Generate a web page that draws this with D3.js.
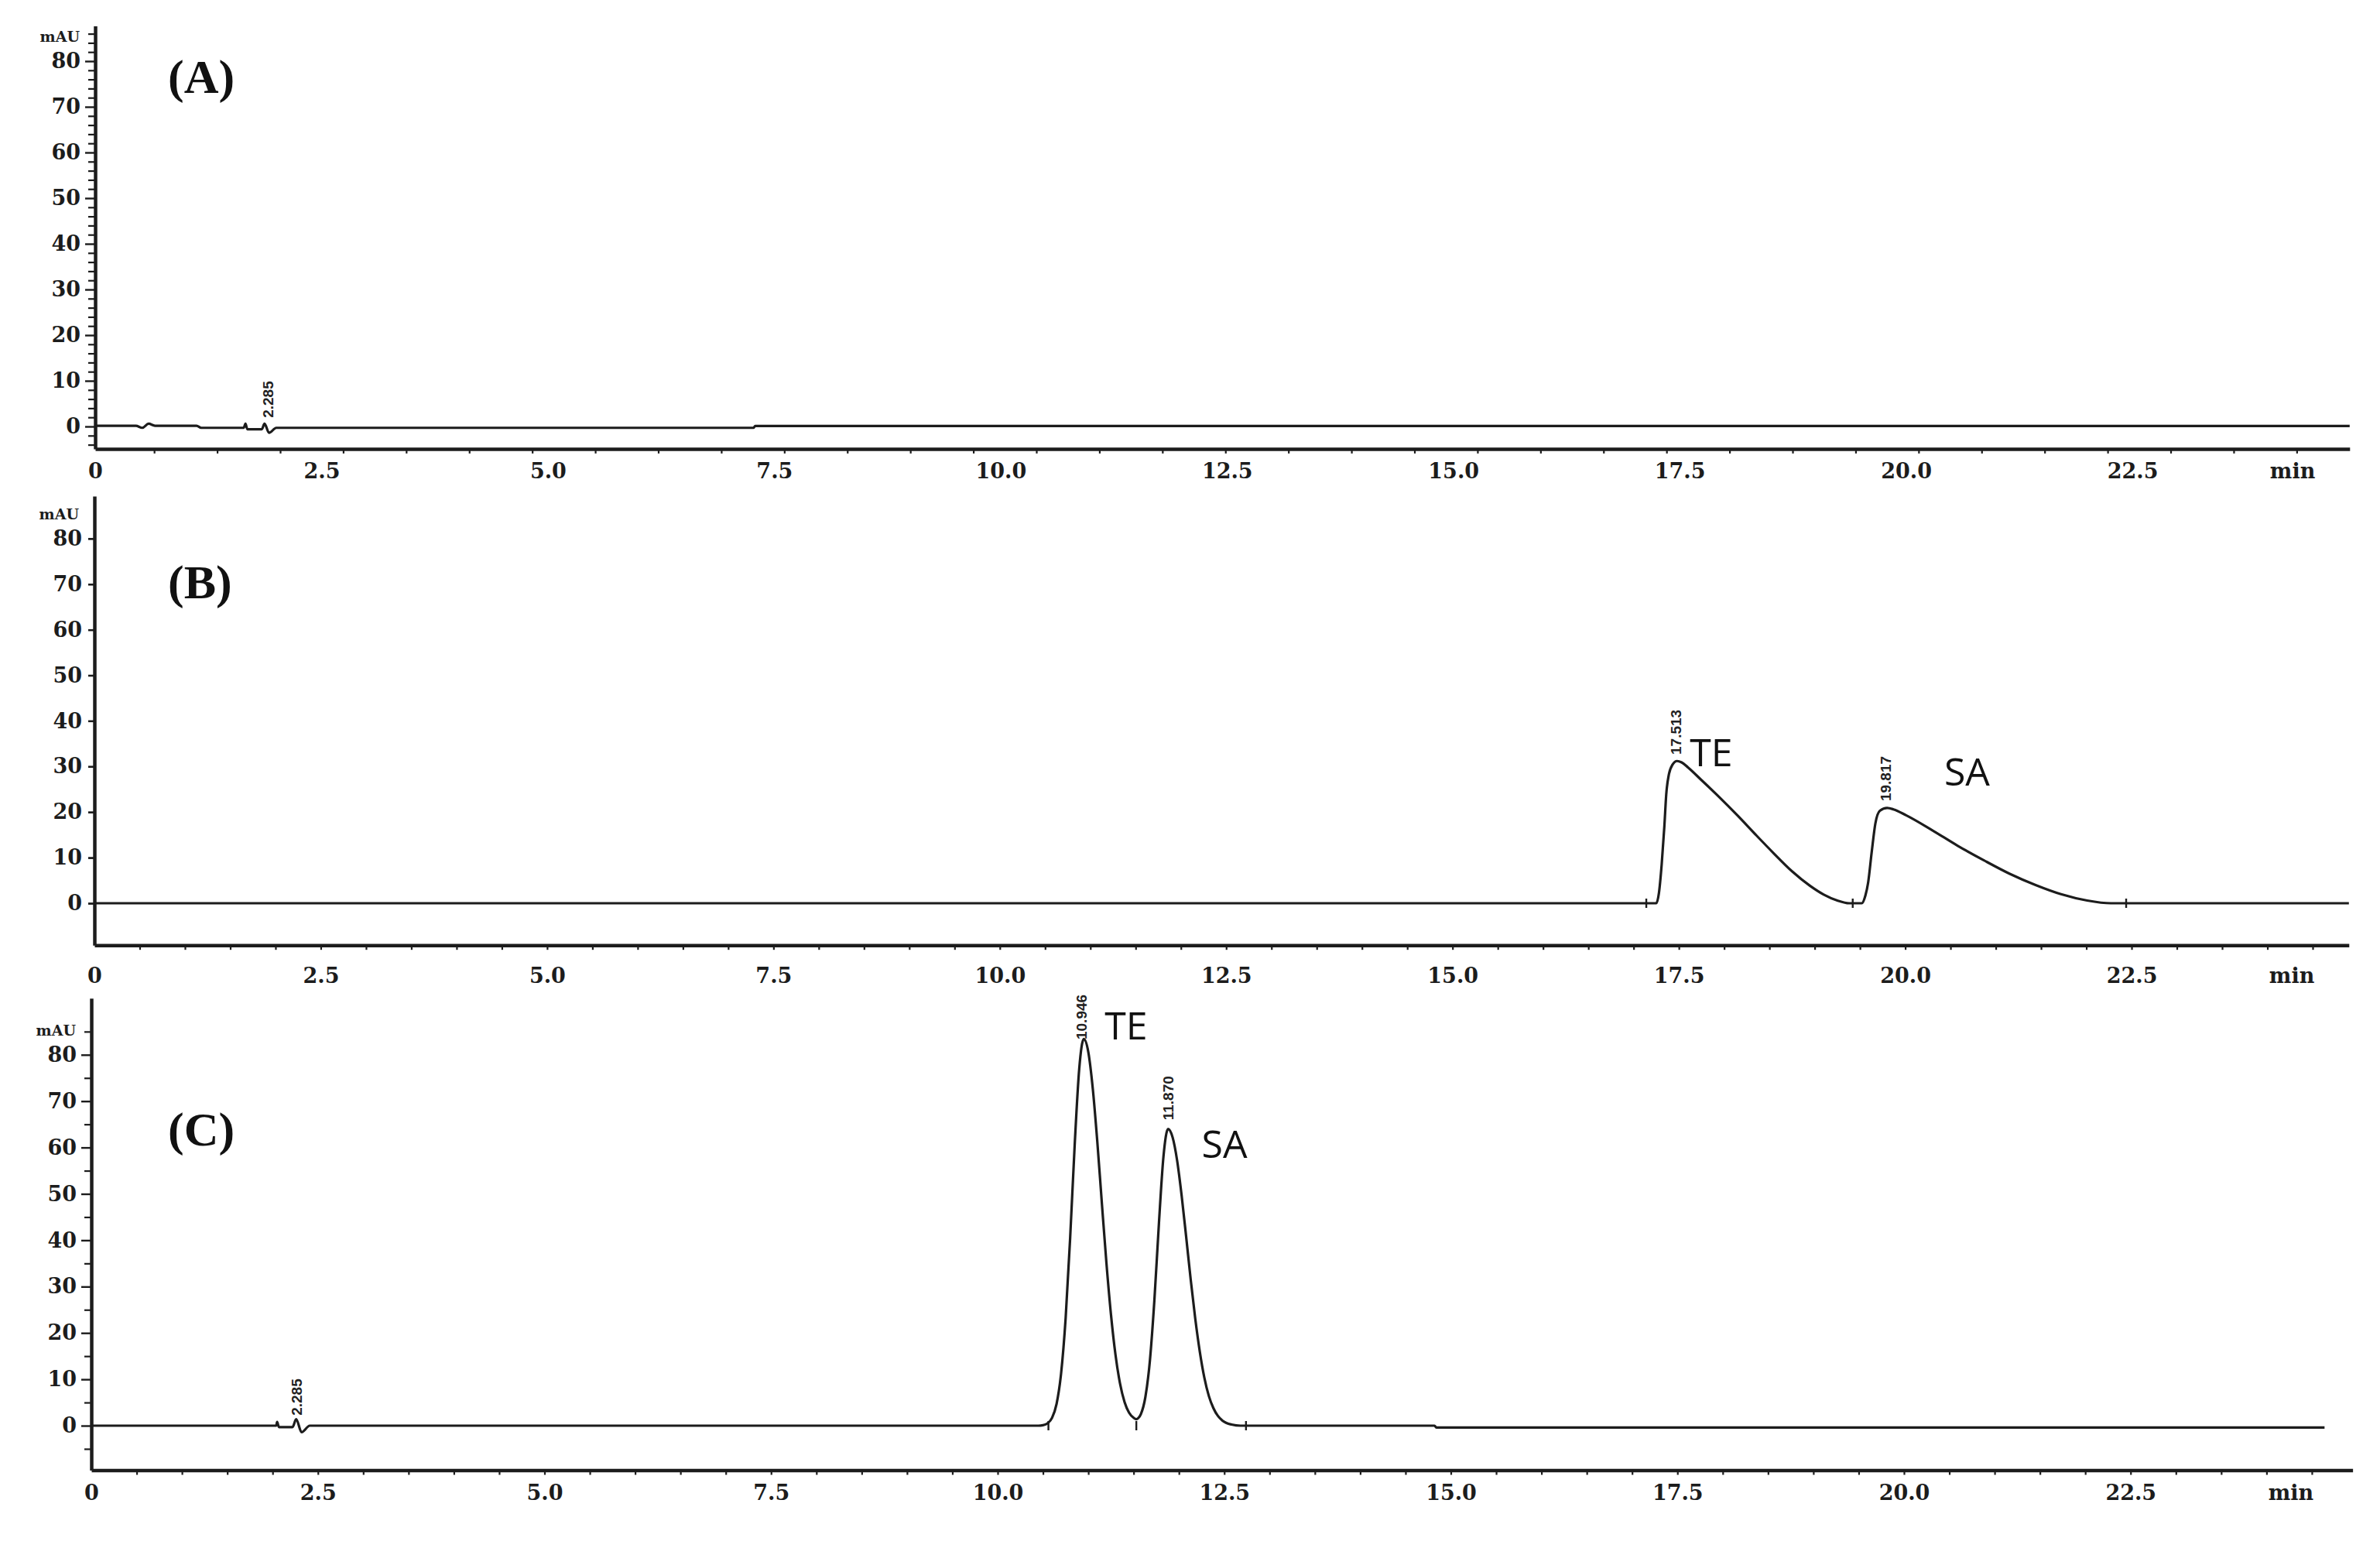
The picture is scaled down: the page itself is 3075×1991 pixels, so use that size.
<!DOCTYPE html>
<html><head><meta charset="utf-8">
<script src="https://cdn.jsdelivr.net/npm/d3@7"></script>
<style>body{margin:0;background:#fff}svg{display:block}</style>
</head><body>
<svg id="chart" width="3075" height="1991"></svg>
<script>
// ---------------- data ----------------
const timeTickValues = [0, 2.5, 5, 7.5, 10, 12.5, 15, 17.5, 20, 22.5];
const timeTickLabels = ["0", "2.5", "5.0", "7.5", "10.0", "12.5", "15.0", "17.5", "20.0", "22.5"];
const mAUTickValues = [0, 10, 20, 30, 40, 50, 60, 70, 80];
const panelNames = ["(A)", "(B)", "(C)"];

// Panel A: blank (baseline only)
const traceA = [[0,0.15],[0.45,0.15],[0.52,-0.3],[0.59,0.6],[0.66,0.15],[1.12,0.15],[1.17,-0.3],[1.64,-0.3],[1.66,0.6],[1.68,-0.6],[1.84,-0.6],[1.87,0.6],[1.92,-1.4],[2.0,-0.3],[7.27,-0.3],[7.29,0.1],[24.9,0.1]];
// Panel B: standard TE + SA
const traceB = [[0,0],[17.14,0],[17.25,0],[17.28,2.3],[17.31,8.5],[17.34,17.0],[17.36,23.8],[17.39,28.3],[17.43,30.4],[17.48,31.2],[17.53,30.9],[17.60,29.8],[17.75,27.0],[17.95,23.2],[18.15,19.2],[18.35,15.0],[18.55,10.9],[18.75,7.0],[18.95,3.8],[19.10,1.9],[19.25,0.6],[19.38,0],[19.52,0],[19.56,1.7],[19.59,4.5],[19.63,11.3],[19.67,17.5],[19.72,20.3],[19.80,20.9],[19.87,20.6],[20.01,19.3],[20.30,16.0],[20.58,12.6],[20.87,9.4],[21.15,6.5],[21.44,4.0],[21.72,2.0],[22.01,0.6],[22.27,0],[24.9,0]];
// Panel C: sample
const traceC = [[0,0],[2.04,0],[2.05,0.8],[2.07,-0.3],[2.22,-0.3],[2.26,1.4],[2.32,-1.4],[2.41,0],[10.45,0],[10.50,0.1],[10.55,0.5],[10.60,1.7],[10.65,4.7],[10.70,11.3],[10.75,23.2],[10.80,40.6],[10.85,60.6],[10.90,77.0],[10.95,83.4],[11.00,80.6],[11.05,72.6],[11.10,61.1],[11.15,47.9],[11.20,35.1],[11.25,24.0],[11.30,15.3],[11.35,9.1],[11.40,5.1],[11.45,2.8],[11.50,1.7],[11.53,1.4],[11.55,1.6],[11.58,2.5],[11.63,6.2],[11.68,14.1],[11.73,27.3],[11.78,43.9],[11.83,58.2],[11.88,64.0],[11.93,62.2],[11.98,57.2],[12.03,49.6],[12.08,40.7],[12.13,31.5],[12.18,23.1],[12.23,16.0],[12.28,10.4],[12.33,6.4],[12.38,3.8],[12.43,2.1],[12.48,1.1],[12.58,0.25],[12.68,0],[14.82,0],[14.84,-0.4],[24.64,-0.4]];

// integration markers (time of small ticks on baseline)
const markersA = [];
const markersB = [17.14, 19.42, 22.44];
const markersC = [10.56, 11.53, 12.74];

// retention-time labels: time, value at text start, text
const peakTimesA = [1.906];   const peakTextA = ["2.285"];  const peakLevelA = [1.9];
const peakTimesB = [17.465, 19.78]; const peakTextB = ["17.513", "19.817"]; const peakLevelB = [32.6, 22.4];
const peakTimesC = [2.263, 10.92, 11.88]; const peakTextC = ["2.285", "10.946", "11.870"]; const peakLevelC = [2.2, 83.3, 65.9];

// compound labels: time at left edge, value at baseline
const compoundTextB = ["TE", "SA"]; const compoundTimeB = [17.62, 20.43]; const compoundLevelB = [30.1, 25.8];
const compoundTextC = ["TE", "SA"]; const compoundTimeC = [11.18, 12.25]; const compoundLevelC = [83.3, 57.8];

// ---------------- layout ----------------
const INK = "#1c1c1c";
const AXIS_FONT = "'DejaVu Serif', serif";
const panels = [
  {name: panelNames[0], trace: traceA, markers: markersA,
   peaks: {t: peakTimesA, text: peakTextA, v: peakLevelA},
   comps: {t: [], text: [], v: []},
   axisX: 123, xPerMin: 116.98, zeroY: 551, pxPerUnit: 5.9, yMin: -4.9, yMax: 87.7, xMax: 24.9,
   minorXStart: -0.045, minorXStep: 0.696, yMinorStep: 2, xLabelDy: 38, labelY: 120, clipTop: 40},
  {name: panelNames[1], trace: traceB, markers: markersB,
   peaks: {t: peakTimesB, text: peakTextB, v: peakLevelB},
   comps: {t: compoundTimeB, text: compoundTextB, v: compoundLevelB},
   axisX: 122, xPerMin: 116.98, zeroY: 1167, pxPerUnit: 5.89, yMin: -9.2, yMax: 89.3, xMax: 24.9,
   minorXStart: 0, minorXStep: 0.5, yMinorStep: 10, xLabelDy: 49, labelY: 773, clipTop: 0},
  {name: panelNames[2], trace: traceC, markers: markersC,
   peaks: {t: peakTimesC, text: peakTextC, v: peakLevelC},
   comps: {t: compoundTimeC, text: compoundTextC, v: compoundLevelC},
   axisX: 118, xPerMin: 117.1, zeroY: 1842, pxPerUnit: 5.99, yMin: -9.6, yMax: 92.2, xMax: 24.95,
   minorXStart: 0, minorXStep: 0.5, yMinorStep: 5, xLabelDy: 38, labelY: 1480, clipTop: 0}
];

const svg = d3.select("#chart");
svg.append("rect").attr("width", 3075).attr("height", 1991).attr("fill", "#fff");

panels.forEach((p, pi) => {
  const x = d3.scaleLinear().domain([0, p.xMax]).range([p.axisX, p.axisX + p.xMax * p.xPerMin]);
  const y = d3.scaleLinear().domain([p.yMin, p.yMax])
    .range([p.zeroY - p.yMin * p.pxPerUnit, p.zeroY - p.yMax * p.pxPerUnit]);
  const g = svg.append("g");
  const yBottom = y(p.yMin);

  // x axis: minor ticks
  const minorX = d3.range(p.minorXStart, p.xMax, p.minorXStep).filter(d => d > 0.05);
  const xMinor = g.append("g").attr("transform", `translate(0,${yBottom})`)
    .call(d3.axisBottom(x).tickValues(minorX).tickSize(6).tickSizeOuter(0).tickFormat(""));
  xMinor.select(".domain").attr("stroke", INK).attr("stroke-width", 4.5);
  xMinor.selectAll(".tick line").attr("stroke", INK).attr("stroke-width", 2.2);

  // x axis: labels
  const xMajor = g.append("g").attr("transform", `translate(0,${yBottom})`)
    .call(d3.axisBottom(x).tickValues(timeTickValues).tickSize(0).tickPadding(p.xLabelDy - 24)
      .tickFormat((d, i) => timeTickLabels[i]));
  xMajor.select(".domain").remove();
  xMajor.selectAll("text").attr("font-family", AXIS_FONT).attr("font-weight", "bold")
    .attr("font-size", 27).attr("fill", INK).attr("dy", null)
    .attr("dominant-baseline", "alphabetic").attr("y", p.xLabelDy);
  g.append("text").attr("x", x(24.27)).attr("y", yBottom + p.xLabelDy)
    .attr("text-anchor", "middle").attr("font-family", AXIS_FONT).attr("font-weight", "bold")
    .attr("font-size", 27).attr("fill", INK).text("min");

  // y axis
  const minorY = d3.range(Math.ceil(p.yMin / p.yMinorStep) * p.yMinorStep, p.yMax, p.yMinorStep)
    .filter(d => Math.abs(d % 10) > 1e-6 || p.yMinorStep === 10);
  const yMinorAxis = g.append("g").attr("transform", `translate(${p.axisX},0)`)
    .call(d3.axisLeft(y).tickValues(minorY).tickSize(p.yMinorStep === 10 ? 8 : 9).tickSizeOuter(0).tickFormat(""));
  yMinorAxis.select(".domain").attr("stroke", INK).attr("stroke-width", 4.5);
  yMinorAxis.selectAll(".tick line").attr("stroke", INK).attr("stroke-width", 2.2);

  const yMajorAxis = g.append("g").attr("transform", `translate(${p.axisX},0)`)
    .call(d3.axisLeft(y).tickValues(mAUTickValues).tickSize(p.yMinorStep === 10 ? 8 : 13).tickPadding(p.yMinorStep === 10 ? 8 : 6));
  yMajorAxis.select(".domain").remove();
  yMajorAxis.selectAll(".tick line").attr("stroke", INK).attr("stroke-width", 2.4);
  yMajorAxis.selectAll("text").attr("font-family", AXIS_FONT).attr("font-weight", "bold")
    .attr("font-size", 27).attr("fill", INK);

  // mAU unit label
  let clip = null;
  if (p.clipTop > 0) {
    const id = "clip" + pi;
    svg.append("clipPath").attr("id", id).append("rect")
      .attr("x", 0).attr("y", p.clipTop).attr("width", 400).attr("height", 400);
    clip = `url(#${id})`;
  }
  g.append("text").attr("x", p.axisX - 20).attr("y", y(84.2))
    .attr("text-anchor", "end").attr("font-family", AXIS_FONT).attr("font-weight", "bold")
    .attr("font-size", 19).attr("fill", INK).attr("clip-path", clip).text("mAU");

  // panel label
  g.append("text").attr("x", 217).attr("y", p.labelY)
    .attr("font-family", "'Liberation Serif', serif").attr("font-weight", "bold")
    .attr("font-size", 62).attr("fill", "#111").text(p.name);

  // trace
  const line = d3.line().x(d => x(d[0])).y(d => y(d[1])).curve(d3.curveMonotoneX);
  g.append("path").datum(p.trace).attr("d", line)
    .attr("fill", "none").attr("stroke", INK).attr("stroke-width", 3.2)
    .attr("stroke-linejoin", "round");

  // integration markers
  g.selectAll(".mk").data(p.markers).join("line")
    .attr("x1", d => x(d)).attr("x2", d => x(d))
    .attr("y1", y(0) - 6).attr("y2", y(0) + 6)
    .attr("stroke", INK).attr("stroke-width", 2.4);

  // retention time labels
  p.peaks.t.forEach((t, i) => {
    g.append("text")
      .attr("transform", `translate(${x(t) + 7},${y(p.peaks.v[i])}) rotate(-90)`)
      .attr("font-family", "'Liberation Sans', Arial, sans-serif").attr("font-weight", "bold")
      .attr("font-size", 19).attr("fill", "#222").text(p.peaks.text[i]);
  });

  // compound labels
  p.comps.t.forEach((t, i) => {
    g.append("text").attr("x", x(t)).attr("y", y(p.comps.v[i]))
      .attr("font-family", "'Open Sans', sans-serif").attr("font-size", 50)
      .attr("fill", "#111").text(p.comps.text[i]);
  });
});
</script>
</body></html>
